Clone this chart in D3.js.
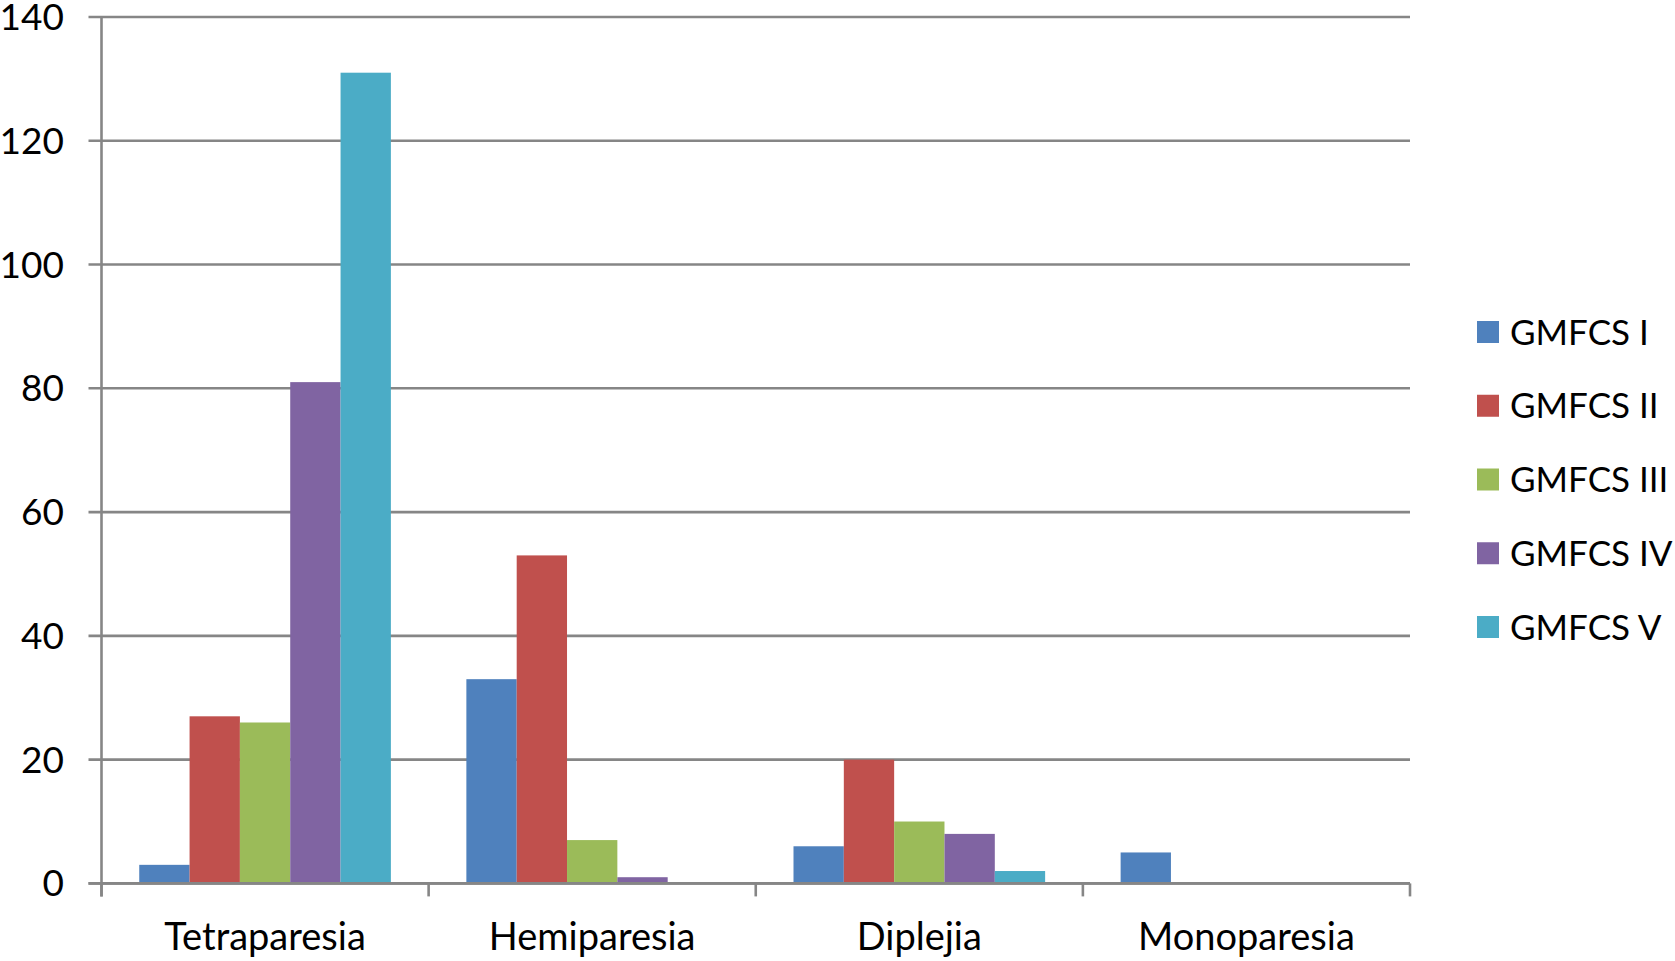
<!DOCTYPE html>
<html>
<head>
<meta charset="utf-8">
<script src="https://cdn.jsdelivr.net/npm/d3@7"></script>
<style>
html,body{margin:0;padding:0;background:#fff;}
svg{display:block;}
text{font-family:Lato,"Open Sans",sans-serif;fill:#000;}
</style>
</head>
<body>
<svg id="chart" width="1675" height="961"></svg>
<script>
const categories = ["Tetraparesia", "Hemiparesia", "Diplejia", "Monoparesia"];
const seriesNames = ["GMFCS I", "GMFCS II", "GMFCS III", "GMFCS IV", "GMFCS V"];
const gmfcsI   = [3, 33, 6, 5];
const gmfcsII  = [27, 53, 20, 0];
const gmfcsIII = [26, 7, 10, 0];
const gmfcsIV  = [81, 1, 8, 0];
const gmfcsV   = [131, 0, 2, 0];
const colors = ["#4F81BD", "#C0504D", "#9BBB59", "#8064A2", "#4BACC6"];
const yTicks = [0, 20, 40, 60, 80, 100, 120, 140];

const seriesValues = [gmfcsI, gmfcsII, gmfcsIII, gmfcsIV, gmfcsV];

(function () {
const svg = d3.select("#chart");
const mLeft = 101.5, mRight = 1410, mTop = 17, mBottom = 883.4;

const x = d3.scaleBand().domain(categories).range([mLeft, mRight]).paddingInner(0).paddingOuter(0);
const xs = d3.scaleBand().domain(seriesNames).range([0, x.bandwidth()]).paddingInner(0).paddingOuter(0.75);
const y = d3.scaleLinear().domain([0, 140]).range([mBottom, mTop]);

const gridColor = "#868686";

// gridlines + y ticks
svg.append("g").selectAll("line").data(yTicks).join("line")
  .attr("x1", mLeft - 13).attr("x2", mRight)
  .attr("y1", d => y(d)).attr("y2", d => y(d))
  .attr("stroke", gridColor).attr("stroke-width", 2.6);

// bars
const data = [];
categories.forEach((c, ci) => seriesNames.forEach((s, si) => data.push({c, s, si, v: seriesValues[si][ci]})));
svg.append("g").selectAll("rect").data(data.filter(d => d.v > 0)).join("rect")
  .attr("x", d => x(d.c) + xs(d.s))
  .attr("width", xs.bandwidth())
  .attr("y", d => y(d.v))
  .attr("height", d => y(0) - y(d.v))
  .attr("fill", d => colors[d.si]);

// y axis line
svg.append("line").attr("x1", mLeft).attr("x2", mLeft).attr("y1", mTop).attr("y2", mBottom + 13)
  .attr("stroke", gridColor).attr("stroke-width", 2.6);
// x axis line
svg.append("line").attr("x1", mLeft - 13).attr("x2", mRight).attr("y1", mBottom).attr("y2", mBottom)
  .attr("stroke", gridColor).attr("stroke-width", 2.6);
// x category ticks
const bounds = categories.map(c => x(c)).concat([mRight]);
svg.append("g").selectAll("line").data(bounds).join("line")
  .attr("x1", d => d).attr("x2", d => d).attr("y1", mBottom).attr("y2", mBottom + 13)
  .attr("stroke", gridColor).attr("stroke-width", 2.6);

// y tick labels
svg.append("g").selectAll("text").data(yTicks).join("text")
  .attr("x", 64).attr("y", d => y(d) + 13).attr("dy", 0)
  .attr("text-anchor", "end").attr("font-size", 37)
  .text(d => d);

// x category labels
svg.append("g").selectAll("text").data(categories).join("text")
  .attr("x", d => x(d) + x.bandwidth() / 2).attr("y", 950)
  .attr("text-anchor", "middle").attr("font-size", 38)
  .text(d => d);

// legend
const legY = d3.scalePoint().domain(seriesNames).range([332, 627]);
const leg = svg.append("g").selectAll("g").data(seriesNames).join("g")
  .attr("transform", d => `translate(1477,${legY(d)})`);
leg.append("rect").attr("x", 0).attr("y", -11).attr("width", 22).attr("height", 22)
  .attr("fill", (d, i) => colors[i]);
leg.append("text").attr("x", 33).attr("y", 0).attr("dy", "0.36em")
  .attr("font-size", 35).text(d => d);
})();
</script>
</body>
</html>
